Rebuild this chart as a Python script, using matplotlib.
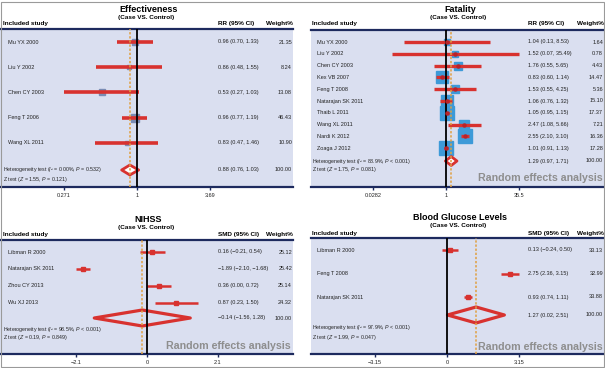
import numpy as np
import matplotlib
matplotlib.use('Agg')
import matplotlib.pyplot as plt
from matplotlib.patches import Polygon, Rectangle
from matplotlib.ticker import NullLocator

plt.rcParams['font.family'] = ['Liberation Sans', 'DejaVu Sans']
plt.rcParams['mathtext.fontset'] = 'custom'
plt.rcParams['mathtext.rm'] = 'Liberation Sans'
plt.rcParams['mathtext.it'] = 'Liberation Sans:italic'

W, H = 605, 368
RED = '#d8322f'
NAVY = '#1d2a5e'
SHADE = '#dadff0'
ORANGE = '#e0a040'

# ── datos ────────────────────────────────────────────────────────────────
eff_names = ['Mu YX 2000', 'Liu Y 2002', 'Chen CY 2003', 'Feng T 2006', 'Wang XL 2011']
eff_est = [0.96, 0.86, 0.53, 0.96, 0.83]
eff_lo = [0.70, 0.48, 0.27, 0.77, 0.47]
eff_hi = [1.33, 1.55, 1.03, 1.19, 1.46]
eff_w = [21.35, 8.24, 13.08, 46.43, 10.90]
eff_pool = [0.88, 0.76, 1.03]
eff_het = r'Heterogeneity test ($I$² = 0.00%, $P$ = 0.532)'
eff_z = r'Z test ($Z$ = 1.55, $P$ = 0.121)'
eff_ticks = [0.271, 1, 3.69]
eff_ticklab = ['0.271', '1', '3.69']

fat_names = ['Mu YX 2000', 'Liu Y 2002', 'Chen CY 2003', 'Kex VB 2007', 'Feng T 2008',
             'Natarajan SK 2011', 'Thaib L 2011', 'Wang XL 2011', 'Nardi K 2012', 'Zoaga J 2012']
fat_est = [1.04, 1.52, 1.76, 0.83, 1.53, 1.06, 1.05, 2.47, 2.55, 1.01]
fat_lo = [0.13, 0.07, 0.55, 0.60, 0.55, 0.76, 0.95, 1.08, 2.10, 0.91]
fat_hi = [8.53, 35.49, 5.65, 1.14, 4.25, 1.32, 1.15, 5.66, 3.10, 1.13]
fat_w = [1.64, 0.78, 4.43, 14.47, 5.36, 15.10, 17.37, 7.21, 16.36, 17.28]
fat_pool = [1.29, 0.97, 1.71]
fat_het = r'Heterogeneity test ($I$² = 88.9%, $P$ < 0.001)'
fat_z = r'Z test ($Z$ = 1.75, $P$ = 0.081)'
fat_ticks = [0.0282, 1, 35.5]
fat_ticklab = ['0.0282', '1', '35.5']

nih_names = ['Libman R 2000', 'Natarajan SK 2011', 'Zhou CY 2013', 'Wu XJ 2013']
nih_est = [0.16, -1.89, 0.36, 0.87]
nih_lo = [-0.21, -2.10, 0.00, 0.23]
nih_hi = [0.54, -1.68, 0.72, 1.50]
nih_w = [25.12, 25.42, 25.14, 24.32]
nih_pool = [-0.14, -1.56, 1.28]
nih_het = r'Heterogeneity test ($I$² = 98.5%, $P$ < 0.001)'
nih_z = r'Z test ($Z$ = 0.19, $P$ = 0.849)'
nih_ticks = [-2.1, 0, 2.1]
nih_ticklab = ['\u22122.1', '0', '2.1']

bgl_names = ['Libman R 2000', 'Feng T 2008', 'Natarajan SK 2011']
bgl_est = [0.13, 2.75, 0.93]
bgl_lo = [-0.24, 2.36, 0.74]
bgl_hi = [0.50, 3.15, 1.11]
bgl_w = [33.13, 32.99, 33.88]
bgl_pool = [1.27, 0.02, 2.51]
bgl_het = r'Heterogeneity test ($I$² = 97.9%, $P$ < 0.001)'
bgl_z = r'Z test ($Z$ = 1.99, $P$ = 0.047)'
bgl_ticks = [-3.15, 0, 3.15]
bgl_ticklab = ['\u22123.15', '0', '3.15']

fig = plt.figure(figsize=(W / 100, H / 100), dpi=100)


def fx(x):
    return x / W


def fy(y):
    return 1 - y / H


def ftext(x, y, s, **kw):
    kw.setdefault('va', 'center')
    kw.setdefault('color', '#222222')
    fig.text(fx(x), fy(y), s, **kw)


def num(v):
    return f'{v:.2f}'.replace('-', '\u2212')


def panel(cfg, names, est, lo, hi, w, pool, het, zt, ticks, ticklab):
    x0, x1, y0, y1 = cfg['box']
    ax = fig.add_axes([fx(x0), fy(y1), (x1 - x0) / W, (y1 - y0) / H])
    ax.set_facecolor(SHADE)
    ax.set_ylim(y1, y0)
    c, d = cfg['center'], cfg['dpx']
    if cfg['log']:
        s = np.log(ticks[2]) / d
        ax.set_xscale('log')
        ax.set_xlim(np.exp((x0 - c) * s), np.exp((x1 - c) * s))
        null = 1
    else:
        s = ticks[2] / d
        ax.set_xlim((x0 - c) * s, (x1 - c) * s)
        null = 0
    ax.xaxis.set_minor_locator(NullLocator())
    ax.set_xticks(ticks)
    ax.set_xticklabels(ticklab)
    ax.set_yticks([])
    ax.tick_params(axis='x', direction='out', length=2.5, width=1, color=NAVY,
                   labelsize=4, pad=1.5, labelcolor='#222222')
    for sp in ['left', 'right']:
        ax.spines[sp].set_visible(False)
    for sp in ['top', 'bottom']:
        ax.spines[sp].set_color(NAVY)
        ax.spines[sp].set_linewidth(1.6)

    rows = cfg['y0'] + cfg['dy'] * np.arange(len(names))
    for i, yy in enumerate(rows):
        side = cfg['sq_a'] + cfg['sq_b'] * np.sqrt(w[i])
        ax.plot(est[i], yy, marker='s', ms=side * 0.72, color=cfg['sq_col'],
                mec=cfg['sq_col'], zorder=2)
        ax.plot([lo[i], hi[i]], [yy, yy], color=RED, lw=cfg['ci_lw'],
                solid_capstyle='butt', zorder=3)
        if cfg['dot']:
            ax.plot(est[i], yy, 'o', ms=2.2, color='#b8232a', zorder=6)
        ftext(cfg['name_x'], yy, names[i], fontsize=4)
        ftext(cfg['val_x'], yy, f'{num(est[i])} ({num(lo[i])}, {num(hi[i])})', fontsize=4)
        ftext(cfg['w_x'], yy, f'{w[i]:.2f}', fontsize=4, ha='right')

    ys, hh = cfg['y_sum'], cfg['dia_h']
    dia = Polygon([(pool[1], ys), (pool[0], ys - hh / 2), (pool[2], ys), (pool[0], ys + hh / 2)],
                  closed=True, fc=cfg['dia_fc'], ec=RED, lw=cfg['dia_lw'], joinstyle='round', zorder=3)
    ax.add_patch(dia)
    ax.axvline(pool[0], color=ORANGE, ls=(0, (1.5, 1.2)), lw=1.1, zorder=4)
    ax.axvline(null, color='black', lw=1.3, zorder=5)

    ftext(cfg['val_x'], ys, f'{num(pool[0])} ({num(pool[1])}, {num(pool[2])})', fontsize=4)
    ftext(cfg['w_x'], ys, '100.00', fontsize=4, ha='right')
    ftext(cfg['head_x'], cfg['y_het'], het, fontsize=3.8)
    ftext(cfg['head_x'], cfg['y_z'], zt, fontsize=3.8)
    if cfg['re'] is not None:
        ftext(x1 - 2, cfg['re'], 'Random effects analysis', fontsize=7.7,
              fontweight='bold', color='#8e8e8e', ha='right')

    # cabecera
    mid = (x0 + x1) / 2
    ftext(mid + 2, cfg['t_y'], cfg['title'], fontsize=6.5, fontweight='bold', ha='center', color='black')
    ftext(mid, cfg['t_y'] + 8, '(Case VS. Control)', fontsize=4.6, fontweight='bold', ha='center', color='black')
    ftext(cfg['head_x'], cfg['h_y'], 'Included study', fontsize=4.6, fontweight='bold', color='black')
    ftext(cfg['val_x'], cfg['h_y'], cfg['measure'], fontsize=4.6, fontweight='bold', color='black')
    ftext(cfg['w_x'] + 1, cfg['h_y'], 'Weight%', fontsize=4.6, fontweight='bold', ha='right', color='black')


left = dict(name_x=8, head_x=3, val_x=218, w_x=292)
right = dict(name_x=317, head_x=312, val_x=528, w_x=603)

panel(dict(left, box=(0, 293, 29, 187), center=137, dpx=73, log=True, y0=42, dy=25.2,
           y_sum=170, y_het=170, y_z=180, re=None, sq_a=2.5, sq_b=0.7, sq_col='#7a8cb4',
           dot=False, ci_lw=2.6, dia_h=10, dia_lw=2, dia_fc='white', title='Effectiveness',
           t_y=10, h_y=24, measure='RR (95% CI)'),
      eff_names, eff_est, eff_lo, eff_hi, eff_w, eff_pool, eff_het, eff_z, eff_ticks, eff_ticklab)

panel(dict(right, box=(311, 605, 30, 187), center=446, dpx=73, log=True, y0=42, dy=11.8,
           y_sum=161, y_het=161, y_z=169, re=178, sq_a=3, sq_b=2.5, sq_col='#3d9ad8',
           dot=True, ci_lw=2.4, dia_h=9, dia_lw=2, dia_fc='white', title='Fatality',
           t_y=10, h_y=24, measure='RR (95% CI)'),
      fat_names, fat_est, fat_lo, fat_hi, fat_w, fat_pool, fat_het, fat_z, fat_ticks, fat_ticklab)

panel(dict(left, box=(0, 293, 240, 354), center=147, dpx=71, log=False, y0=252, dy=16.9,
           y_sum=318, y_het=330, y_z=338, re=346, sq_a=1.5, sq_b=0.5, sq_col=RED,
           dot=False, ci_lw=1.8, dia_h=16, dia_lw=2.3, dia_fc='none', title='NIHSS',
           t_y=219, h_y=234, measure='SMD (95% CI)'),
      nih_names, nih_est, nih_lo, nih_hi, nih_w, nih_pool, nih_het, nih_z, nih_ticks, nih_ticklab)

panel(dict(right, box=(311, 605, 238, 354), center=447, dpx=72, log=False, y0=250, dy=23.5,
           y_sum=315, y_het=328, y_z=337, re=347, sq_a=1.5, sq_b=0.5, sq_col=RED,
           dot=False, ci_lw=1.8, dia_h=16, dia_lw=2.3, dia_fc='none', title='Blood Glucose Levels',
           t_y=218, h_y=233, measure='SMD (95% CI)'),
      bgl_names, bgl_est, bgl_lo, bgl_hi, bgl_w, bgl_pool, bgl_het, bgl_z, bgl_ticks, bgl_ticklab)

fig.patches.append(Rectangle((0.5 / W, 1.5 / H), 1 - 1.5 / W, 1 - 3.5 / H, fill=False,
                             ec='#9a9a9a', lw=0.8, transform=fig.transFigure))

fig.savefig('out.png', dpi=100)
